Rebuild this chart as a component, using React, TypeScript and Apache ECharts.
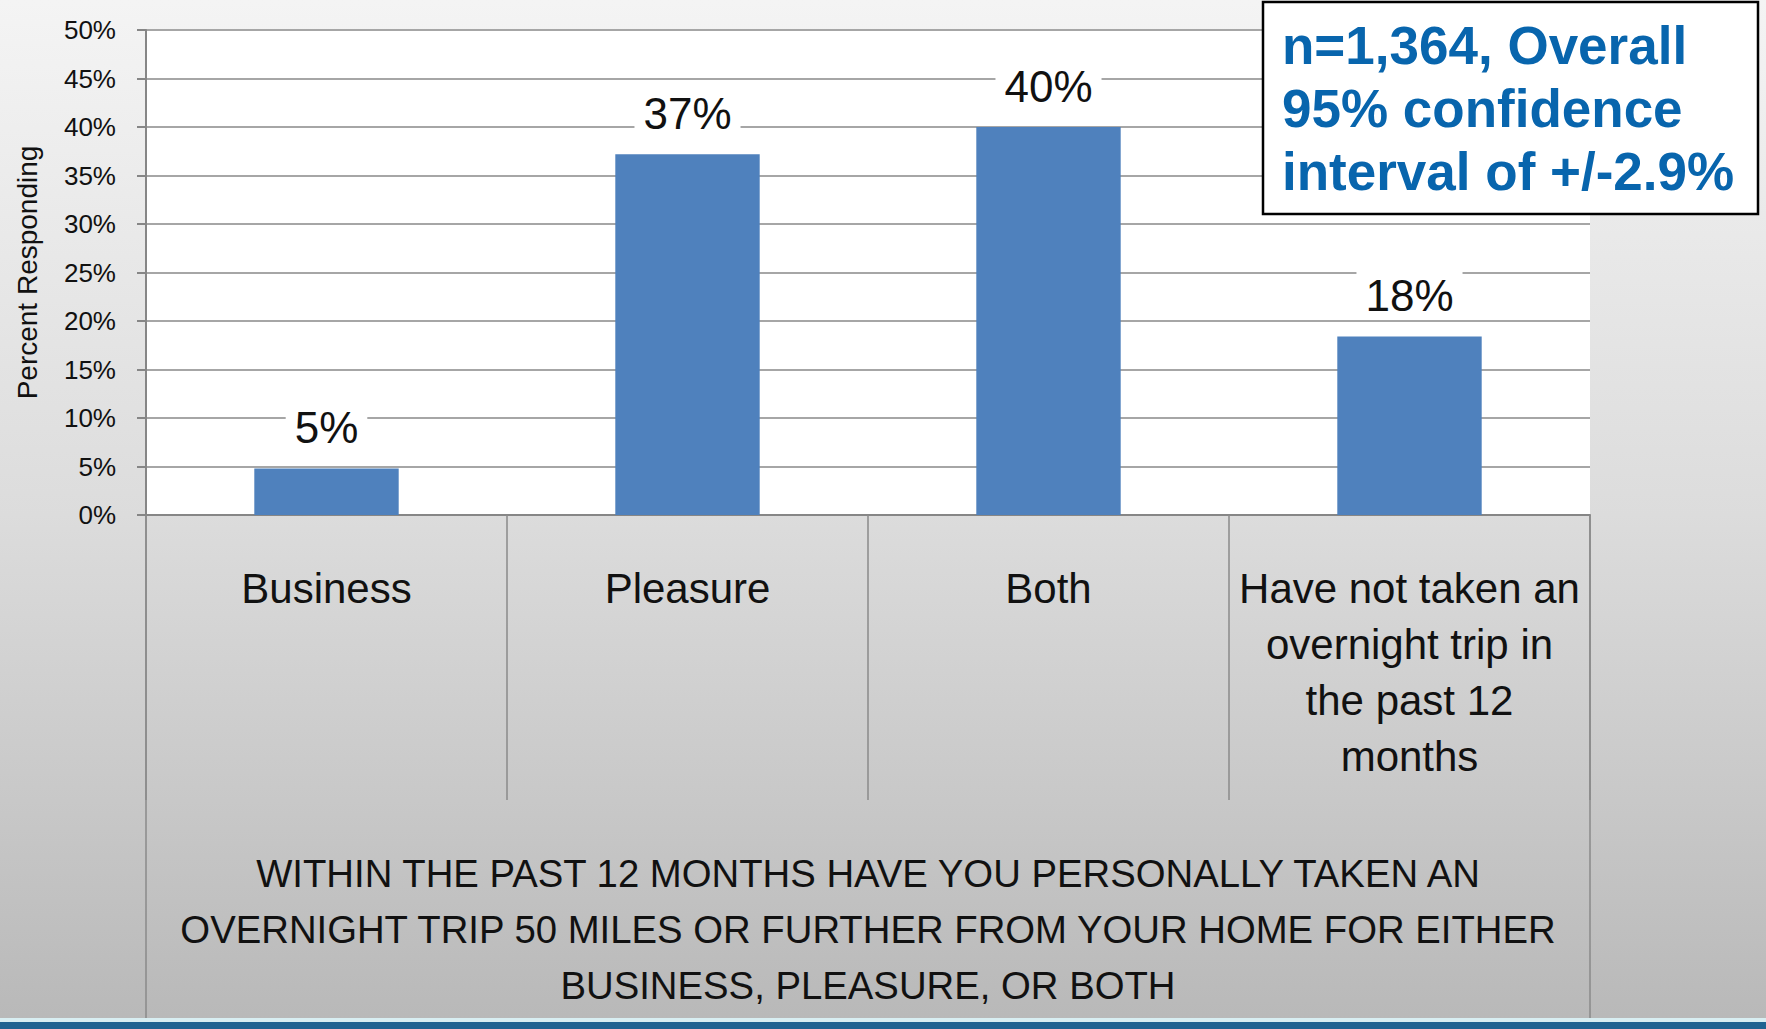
import React, { useEffect, useRef } from "react";
import * as echarts from "echarts";

const categories = [
  "Business",
  "Pleasure",
  "Both",
  "Have not taken an\novernight trip in\nthe past 12\nmonths",
];
const values = [4.8, 37.2, 40.0, 18.4];
const yTicks = { min: 0, max: 50, interval: 5 };
const yAxisTitle = "Percent Responding";
const xAxisTitle =
  "WITHIN THE PAST 12 MONTHS HAVE YOU PERSONALLY TAKEN AN\nOVERNIGHT TRIP 50 MILES OR FURTHER FROM YOUR HOME FOR EITHER\nBUSINESS, PLEASURE, OR BOTH";
const noteText = "n=1,364, Overall\n95% confidence\ninterval of +/-2.9%";

const W = 1766;
const H = 1029;
const GRID_LEFT = 146;
const GRID_RIGHT = 1590;
const GRID_TOP = 30;
const GRID_BOTTOM = 515;
const FONT = "'Liberation Sans', Arial, sans-serif";

export default function App() {
  const ref = useRef<HTMLDivElement>(null);
  useEffect(() => {
    if (!ref.current) return;
    const chart = echarts.init(ref.current, undefined, { renderer: "svg" });
    chart.setOption({
      animation: false,
      backgroundColor: {
        type: "linear",
        x: 0,
        y: 0,
        x2: 0,
        y2: 1,
        colorStops: [
          { offset: 0, color: "#f4f4f4" },
          { offset: 0.5, color: "#dcdcdc" },
          { offset: 1, color: "#b8b8b8" },
        ],
      },
      textStyle: { fontFamily: FONT },
      grid: {
        left: GRID_LEFT,
        right: W - GRID_RIGHT,
        top: GRID_TOP,
        bottom: H - GRID_BOTTOM,
        show: true,
        backgroundColor: "#ffffff",
        borderWidth: 0,
        containLabel: false,
      },
      xAxis: {
        type: "category",
        data: categories,
        axisLine: { show: true, lineStyle: { color: "#868686", width: 2 } },
        axisTick: {
          show: true,
          interval: 0,
          alignWithLabel: false,
          length: 285,
          lineStyle: { color: "#8a8a8a", width: 1.5 },
        },
        axisLabel: {
          interval: 0,
          margin: 45,
          color: "#111",
          fontSize: 42,
          lineHeight: 56,
          fontFamily: FONT,
          verticalAlign: "top",
        },
        name: xAxisTitle,
        nameLocation: "middle",
        nameGap: 330,
        nameTextStyle: {
          color: "#111",
          fontSize: 38.3,
          lineHeight: 56,
          fontFamily: FONT,
          verticalAlign: "top",
        },
      },
      yAxis: {
        type: "value",
        min: yTicks.min,
        max: yTicks.max,
        interval: yTicks.interval,
        axisLine: { show: true, lineStyle: { color: "#868686", width: 2 } },
        axisTick: { show: true, length: 9, lineStyle: { color: "#868686", width: 2 } },
        axisLabel: {
          margin: 30,
          fontSize: 26,
          color: "#111",
          fontFamily: FONT,
          formatter: (v: number) => `${v}%`,
        },
        splitLine: { show: true, lineStyle: { color: "#a6a6a6", width: 2 } },
        name: yAxisTitle,
        nameLocation: "middle",
        nameGap: 105,
        nameTextStyle: { fontSize: 28, color: "#111", fontFamily: FONT },
      },
      series: [
        {
          type: "bar",
          data: values,
          barWidth: "40%",
          itemStyle: { color: "#4f81bd" },
          label: {
            show: true,
            position: "top",
            distance: 17,
            fontSize: 44,
            color: "#111",
            fontFamily: FONT,
            backgroundColor: "#ffffff",
            padding: [2, 9],
            formatter: (p: any) => `${Math.round(p.value)}%`,
          },
        },
      ],
      graphic: [
        {
          type: "line",
          z: 100,
          shape: { x1: GRID_LEFT, y1: GRID_BOTTOM, x2: GRID_LEFT, y2: H },
          style: { stroke: "#8a8a8a", lineWidth: 1.5 },
        },
        {
          type: "line",
          z: 100,
          shape: { x1: GRID_RIGHT, y1: GRID_BOTTOM, x2: GRID_RIGHT, y2: H },
          style: { stroke: "#8a8a8a", lineWidth: 1.5 },
        },
        {
          type: "rect",
          z: 100,
          shape: { x: 0, y: 1018, width: W, height: 4 },
          style: { fill: "#d8eef2" },
        },
        {
          type: "rect",
          z: 101,
          shape: { x: 0, y: 1022, width: W, height: 7 },
          style: { fill: "#1f6391" },
        },
        {
          type: "rect",
          z: 100,
          shape: { x: 1263, y: 2, width: 495, height: 212 },
          style: { fill: "#ffffff", stroke: "#000000", lineWidth: 2.5 },
        },
        {
          type: "text",
          z: 101,
          x: 1282,
          y: 14,
          style: {
            text: noteText,
            fontFamily: FONT,
            fontWeight: "bold",
            fontSize: 53,
            lineHeight: 63,
            fill: "#0865ad",
            textVerticalAlign: "top",
          },
        },
      ],
    });
    return () => chart.dispose();
  }, []);
  return (
    <div
      ref={ref}
      style={{ position: "fixed", left: 0, top: 0, width: W, height: H }}
    />
  );
}
